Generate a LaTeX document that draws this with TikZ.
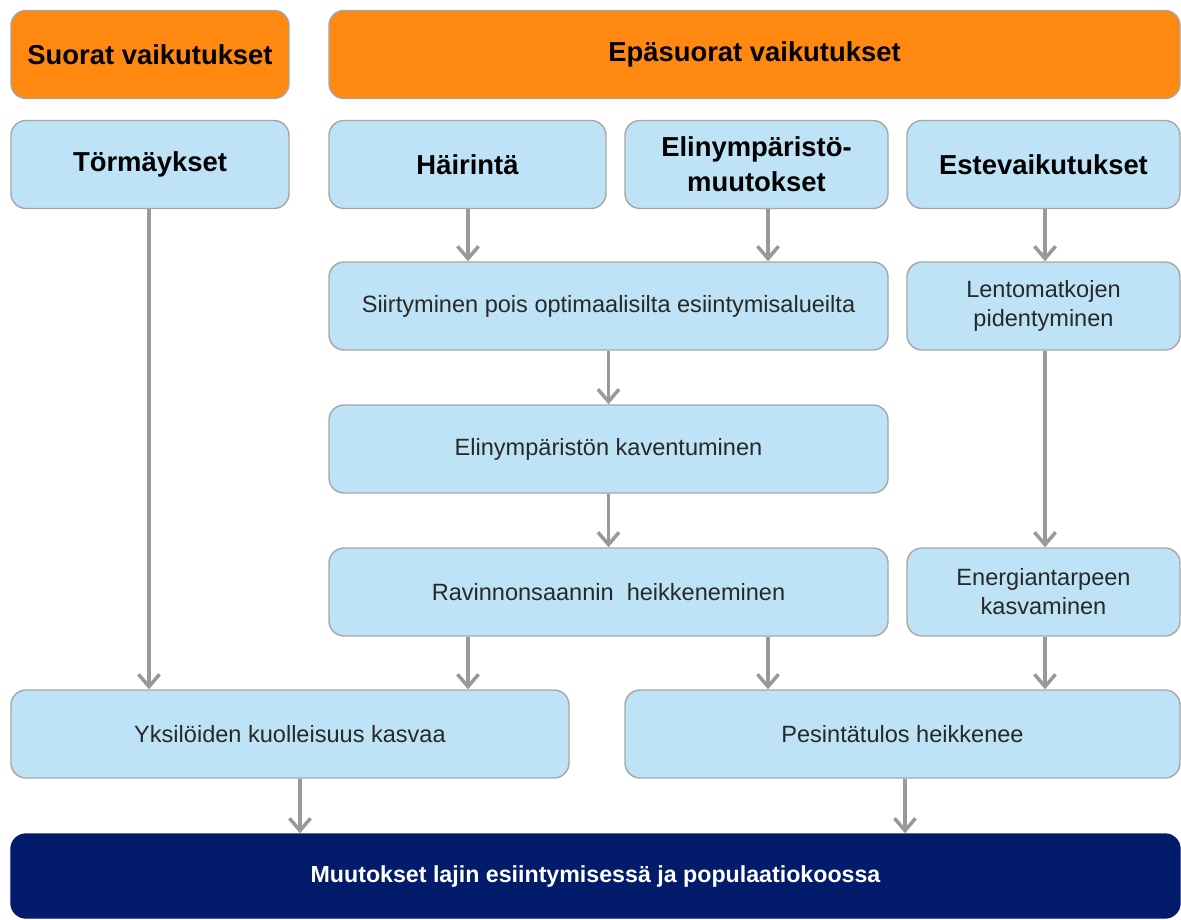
\documentclass[tikz,border=0pt]{standalone}
\usepackage{fontspec}
\setmainfont{Liberation Sans}
\usetikzlibrary{arrows.meta}
\definecolor{headOrange}{RGB}{255,136,17}
\definecolor{boxBlue}{RGB}{190,227,247}
\definecolor{boxEdge}{RGB}{166,166,166}
\definecolor{darkNavy}{RGB}{2,28,107}
\definecolor{arrowGray}{RGB}{153,153,153}
\definecolor{textGray}{RGB}{40,40,40}
\tikzset{
  basebox/.style={draw=boxEdge, line width=0.8pt, rounded corners=0.3cm,
    align=center, inner sep=2pt, minimum height=1.76cm},
  headbox/.style={basebox, fill=headOrange, font=\fontsize{15.6}{19.9}\selectfont\bfseries},
  titlebox/.style={basebox, fill=boxBlue, font=\fontsize{15.6}{19.9}\selectfont\bfseries},
  effectbox/.style={basebox, fill=boxBlue, text=textGray, font=\fontsize{13.4}{16.5}\selectfont},
  resultbox/.style={basebox, draw=darkNavy, fill=darkNavy, text=white, minimum height=1.68cm,
    font=\fontsize{13.2}{16}\selectfont\bfseries},
  flow/.style={draw=arrowGray, line width=2pt, -{Straight Barb[length=7pt,width=12pt]}}
}
\begin{document}
\begin{tikzpicture}
  %% Sizes, taken from the original figure
  \pgfmathsetmacro{\rowA}{-1.09}
  \pgfmathsetmacro{\rowB}{-3.29}
  \pgfmathsetmacro{\rowC}{-6.12}
  \pgfmathsetmacro{\rowD}{-8.98}
  \pgfmathsetmacro{\rowE}{-11.84}
  \pgfmathsetmacro{\rowF}{-14.68}
  \pgfmathsetmacro{\rowG}{-17.52}
  \useasboundingbox (0,0) rectangle (23.62,-18.4);
  %% Headings
  \node[headbox, minimum width=5.56cm] (suorat) at (3.0,\rowA) {Suorat vaikutukset};
  \node[headbox, minimum width=17.02cm] (epasuorat) at (15.09,\rowA) {Epäsuorat vaikutukset};
  %% Effect types
  \node[titlebox, minimum width=5.56cm] (toerm) at (3.0,\rowB) {Törmäykset};
  \node[titlebox, minimum width=5.54cm] (haer) at (9.35,\rowB) {Häirintä};
  \node[titlebox, minimum width=5.26cm] (elin) at (15.13,\rowB) {Elinympäristö-\\muutokset};
  \node[titlebox, minimum width=5.46cm] (este) at (20.87,\rowB) {Estevaikutukset};
  %% Chain of effects
  \node[effectbox, minimum width=11.18cm] (siirt) at (12.17,\rowC) {Siirtyminen pois optimaalisilta esiintymisalueilta};
  \node[effectbox, minimum width=5.46cm] (lento) at (20.87,\rowC) {Lentomatkojen\\pidentyminen};
  \node[effectbox, minimum width=11.18cm] (kaven) at (12.17,\rowD) {Elinympäristön kaventuminen};
  \node[effectbox, minimum width=11.18cm] (ravin) at (12.17,\rowE) {Ravinnonsaannin\ \ heikkeneminen};
  \node[effectbox, minimum width=5.46cm] (energ) at (20.87,\rowE) {Energiantarpeen\\kasvaminen};
  \node[effectbox, minimum width=11.16cm] (kuoll) at (5.8,\rowF) {Yksilöiden kuolleisuus kasvaa};
  \node[effectbox, minimum width=11.1cm] (pesin) at (18.05,\rowF) {Pesintätulos heikkenee};
  %% Result
  \node[resultbox, minimum width=23.38cm] (muut) at (11.91,\rowG) {Muutokset lajin esiintymisessä ja populaatiokoossa};
  %% Arrow columns
  \coordinate (colA) at (2.98,0);
  \coordinate (colB) at (9.36,0);
  \coordinate (colC) at (15.36,0);
  \coordinate (colD) at (20.9,0);
  \coordinate (colE) at (6.0,0);
  \coordinate (colF) at (18.1,0);
  %% Arrows
  \draw[flow] (toerm.south -| colA) -- (kuoll.north -| colA);
  \draw[flow] (haer.south -| colB) -- (siirt.north -| colB);
  \draw[flow] (elin.south -| colC) -- (siirt.north -| colC);
  \draw[flow] (este.south -| colD) -- (lento.north -| colD);
  \draw[flow] (siirt) -- (kaven);
  \draw[flow] (kaven) -- (ravin);
  \draw[flow] (lento.south -| colD) -- (energ.north -| colD);
  \draw[flow] (ravin.south -| colB) -- (kuoll.north -| colB);
  \draw[flow] (ravin.south -| colC) -- (pesin.north -| colC);
  \draw[flow] (energ.south -| colD) -- (pesin.north -| colD);
  \draw[flow] (kuoll.south -| colE) -- (muut.north -| colE);
  \draw[flow] (pesin.south -| colF) -- (muut.north -| colF);
\end{tikzpicture}
\end{document}
